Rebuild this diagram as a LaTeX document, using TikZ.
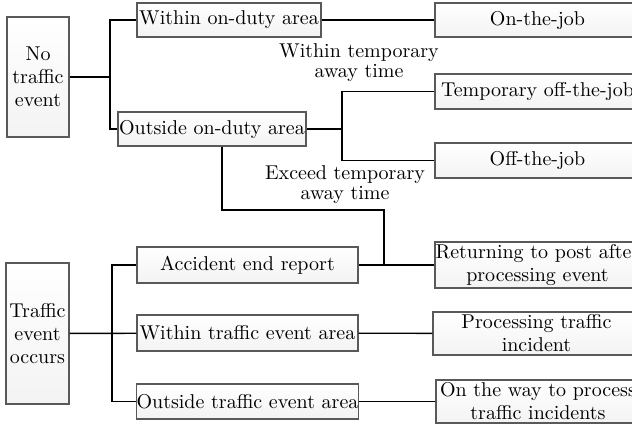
\documentclass[tikz,border=0pt]{standalone}
\usetikzlibrary{positioning}
\tikzset{
    box/.style={draw=black!65,line width=0.6pt,top color=white,bottom color=blue!4!gray!9,
        inner sep=0pt,align=center,font=\fontsize{10}{11.5}\selectfont},
    lbl/.style={align=center,inner sep=0pt,font=\fontsize{10}{10}\selectfont},
    wire/.style={line width=0.7pt}
}
\begin{document}
\begin{tikzpicture}[x=0.5pt,y=-0.5pt]
    \useasboundingbox (0,0) rectangle (632,424);
    \clip (0,0) rectangle (632,424);
    % left column
    \node[box,minimum width=31pt,minimum height=60pt] (notr) at (38,77) {No\\traffic\\event};
    \node[box,minimum width=31.5pt,minimum height=70.5pt] (tr) at (37.5,333.5) {Traffic\\event\\occurs};
    % middle column
    \node[box,minimum width=92pt,minimum height=17pt] (wod) at (229,20) {Within on-duty area};
    \node[box,minimum width=94pt,minimum height=17pt] (ood) at (212,129) {Outside on-duty area};
    \node[box,minimum width=110.5pt,minimum height=18pt] (aer) at (247.5,265) {Accident end report};
    \node[box,minimum width=110.5pt,minimum height=18pt] (wte) at (247.5,333) {Within traffic event area};
    \node[box,minimum width=110.5pt,minimum height=17.5pt] (ote) at (247.5,401.5) {Outside traffic event area};
    % right column
    \node[box,minimum width=102.5pt,minimum height=17pt] (otj) at (537.5,20) {On-the-job};
    \node[box,minimum width=102.5pt,minimum height=17.5pt] (tmp) at (537.5,91.5) {Temporary off-the-job};
    \node[box,minimum width=102.5pt,minimum height=17.5pt] (off) at (537.5,160.5) {Off-the-job};
    \node[box,minimum width=102.5pt,minimum height=23pt] (ret) at (537.5,265) {Returning to post after\\processing event};
    \node[box,minimum width=103.5pt,minimum height=21.5pt] (pti) at (536.5,333.5) {Processing traffic\\incident};
    \node[box,minimum width=102pt,minimum height=21.5pt] (otw) at (538,401.5) {On the way to process\\traffic incidents};
    % condition labels
    \node[lbl] (wtt) at (359,63) {Within temporary\\away time};
    \node[lbl] (ett) at (345,185) {Exceed temporary\\away time};
    % junctions
    \coordinate (j1) at (110,77);
    \coordinate (j2) at (342,129);
    \coordinate (j3) at (222,210);
    \coordinate (j4) at (384,210);
    \coordinate (j5) at (112,333);
    \draw[wire] (notr) -- (j1);
    \draw[wire] (wod.west) -| (j1) |- (ood.west);
    \draw[wire] (wod) -- (otj);
    \draw[wire] (ood) -- (j2);
    \draw[wire] (tmp.west) -| (j2) |- (off.west);
    \draw[wire] (j3 |- ood.south) -- (j3) -- (j4) -- (j4 |- ret.west);
    \draw[wire] (aer) -- (ret);
    \draw[wire] (tr) -- (wte);
    \draw[wire] (aer.west) -| (j5) |- (ote.west);
    \draw[wire] (wte) -- (pti);
    \draw[wire] (ote) -- (otw);
\end{tikzpicture}
\end{document}
